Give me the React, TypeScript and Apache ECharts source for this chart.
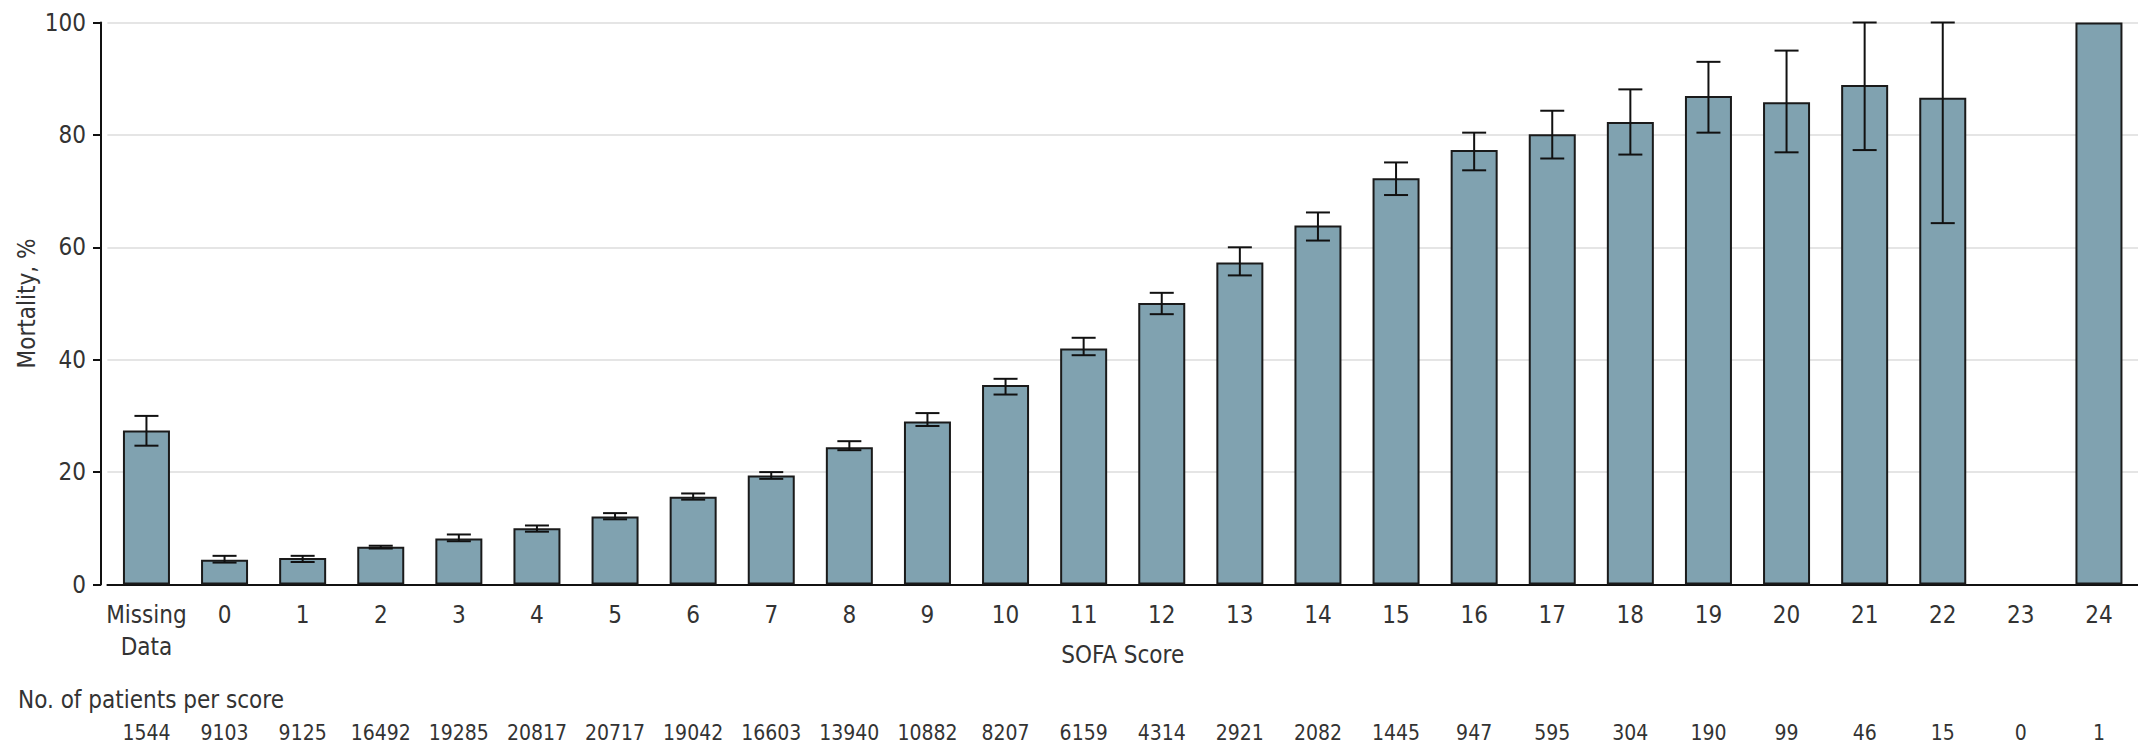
import React, { useEffect, useRef } from "react";
import * as echarts from "echarts";

// SOFA score categories (x axis)
const categories = [
  "Missing\nData", "0", "1", "2", "3", "4", "5", "6", "7", "8", "9", "10", "11", "12",
  "13", "14", "15", "16", "17", "18", "19", "20", "21", "22", "23", "24",
];

// Mortality, % (bar heights)
const mortality = [
  27.4, 4.4, 4.7, 6.7, 8.2, 10.0, 12.1, 15.6, 19.4, 24.4, 29.0, 35.5, 42.0, 50.1,
  57.3, 63.9, 72.3, 77.3, 80.1, 82.3, 86.9, 85.8, 88.9, 86.6, null, 100,
];

// 95% CI lower / upper bounds (error bars)
const ciLow = [
  24.7, 3.9, 4.0, 6.4, 7.7, 9.4, 11.6, 15.1, 18.8, 23.9, 28.2, 33.8, 40.8, 48.1,
  55.0, 61.2, 69.3, 73.7, 75.8, 76.5, 80.4, 76.9, 77.3, 64.3, null, null,
];
const ciHigh = [
  30.0, 5.1, 5.1, 6.9, 8.9, 10.5, 12.7, 16.2, 20.0, 25.5, 30.5, 36.6, 43.9, 51.9,
  60.0, 66.2, 75.1, 80.4, 84.3, 88.1, 93.0, 95.0, 100, 100, null, null,
];

// No. of patients per score
const patients = [
  1544, 9103, 9125, 16492, 19285, 20817, 20717, 19042, 16603, 13940, 10882, 8207,
  6159, 4314, 2921, 2082, 1445, 947, 595, 304, 190, 99, 46, 15, 0, 1,
];

const yMin = 0;
const yMax = 100;
const yInterval = 20;

export default function App() {
  const ref = useRef<HTMLDivElement>(null);

  useEffect(() => {
    if (!ref.current) return;
    const chart = echarts.init(ref.current, null, { renderer: "svg" });
    const FONT = "'DejaVu Sans Condensed', 'DejaVu Sans', sans-serif";
    const TXT = "#333333";

    const errData = categories
      .map((_, i) => (ciLow[i] == null ? null : [i, ciLow[i], ciHigh[i]]))
      .filter((d) => d !== null);

    chart.setOption({
      animation: false,
      backgroundColor: "#ffffff",
      textStyle: { fontFamily: FONT },
      title: {
        text: "No. of patients per score",
        left: 13,
        top: 683,
        textStyle: { fontSize: 24, fontWeight: "normal", color: TXT, fontFamily: FONT },
      },
      grid: { left: 107.4, right: -16.9, top: 22.5, bottom: 159.5, containLabel: false },
      xAxis: [
        {
          type: "category",
          data: categories,
          position: "bottom",
          axisLine: { lineStyle: { color: "#111111", width: 2 } },
          axisTick: { show: false },
          axisLabel: { interval: 0, fontSize: 24, color: TXT, margin: 14, lineHeight: 32, fontFamily: FONT },
          name: "SOFA Score",
          nameLocation: "middle",
          nameGap: 58,
          nameMoveOverlap: false,
          nameTextStyle: { fontSize: 24, color: TXT, fontFamily: FONT },
        },
        {
          type: "category",
          gridIndex: 0,
          data: patients.map(String),
          position: "bottom",
          axisLine: { show: false },
          axisTick: { show: false },
          splitLine: { show: false },
          axisLabel: { interval: 0, fontSize: 21, color: TXT, margin: 138, fontFamily: FONT },
        },
      ],
      yAxis: {
        type: "value",
        min: yMin,
        max: yMax,
        interval: yInterval,
        offset: 6.4,
        axisLine: { show: true, lineStyle: { color: "#111111", width: 2 } },
        axisTick: { show: true, length: 8, lineStyle: { color: "#111111", width: 2 } },
        axisLabel: { fontSize: 24, color: TXT, margin: 15, fontFamily: FONT },
        splitLine: { lineStyle: { color: "#dcdcdc", width: 1.5 } },
        name: "Mortality, %",
        nameLocation: "middle",
        nameGap: 62,
        nameMoveOverlap: false,
        nameTextStyle: { fontSize: 24, color: TXT, fontFamily: FONT },
      },
      series: [
        {
          type: "bar",
          xAxisIndex: 0,
          data: mortality,
          barWidth: 47,
          itemStyle: { color: "#80a2b0", borderColor: "#1a1a1a", borderWidth: 2 },
        },
        {
          type: "custom",
          xAxisIndex: 0,
          data: errData,
          encode: { x: 0, y: [1, 2] },
          z: 5,
          renderItem: (params: any, api: any) => {
            const x = api.value(0);
            const lo = api.coord([x, api.value(1)]);
            const hi = api.coord([x, api.value(2)]);
            const half = 12;
            const style = { stroke: "#111111", lineWidth: 2 };
            return {
              type: "group",
              children: [
                { type: "line", shape: { x1: hi[0], y1: hi[1], x2: lo[0], y2: lo[1] }, style },
                { type: "line", shape: { x1: hi[0] - half, y1: hi[1], x2: hi[0] + half, y2: hi[1] }, style },
                { type: "line", shape: { x1: lo[0] - half, y1: lo[1], x2: lo[0] + half, y2: lo[1] }, style },
              ],
            };
          },
        },
      ],
    });

    return () => chart.dispose();
  }, []);

  return (
    <div
      ref={ref}
      style={{ position: "absolute", left: 0, top: 0, width: 2138, height: 744, background: "#fff" }}
    />
  );
}
